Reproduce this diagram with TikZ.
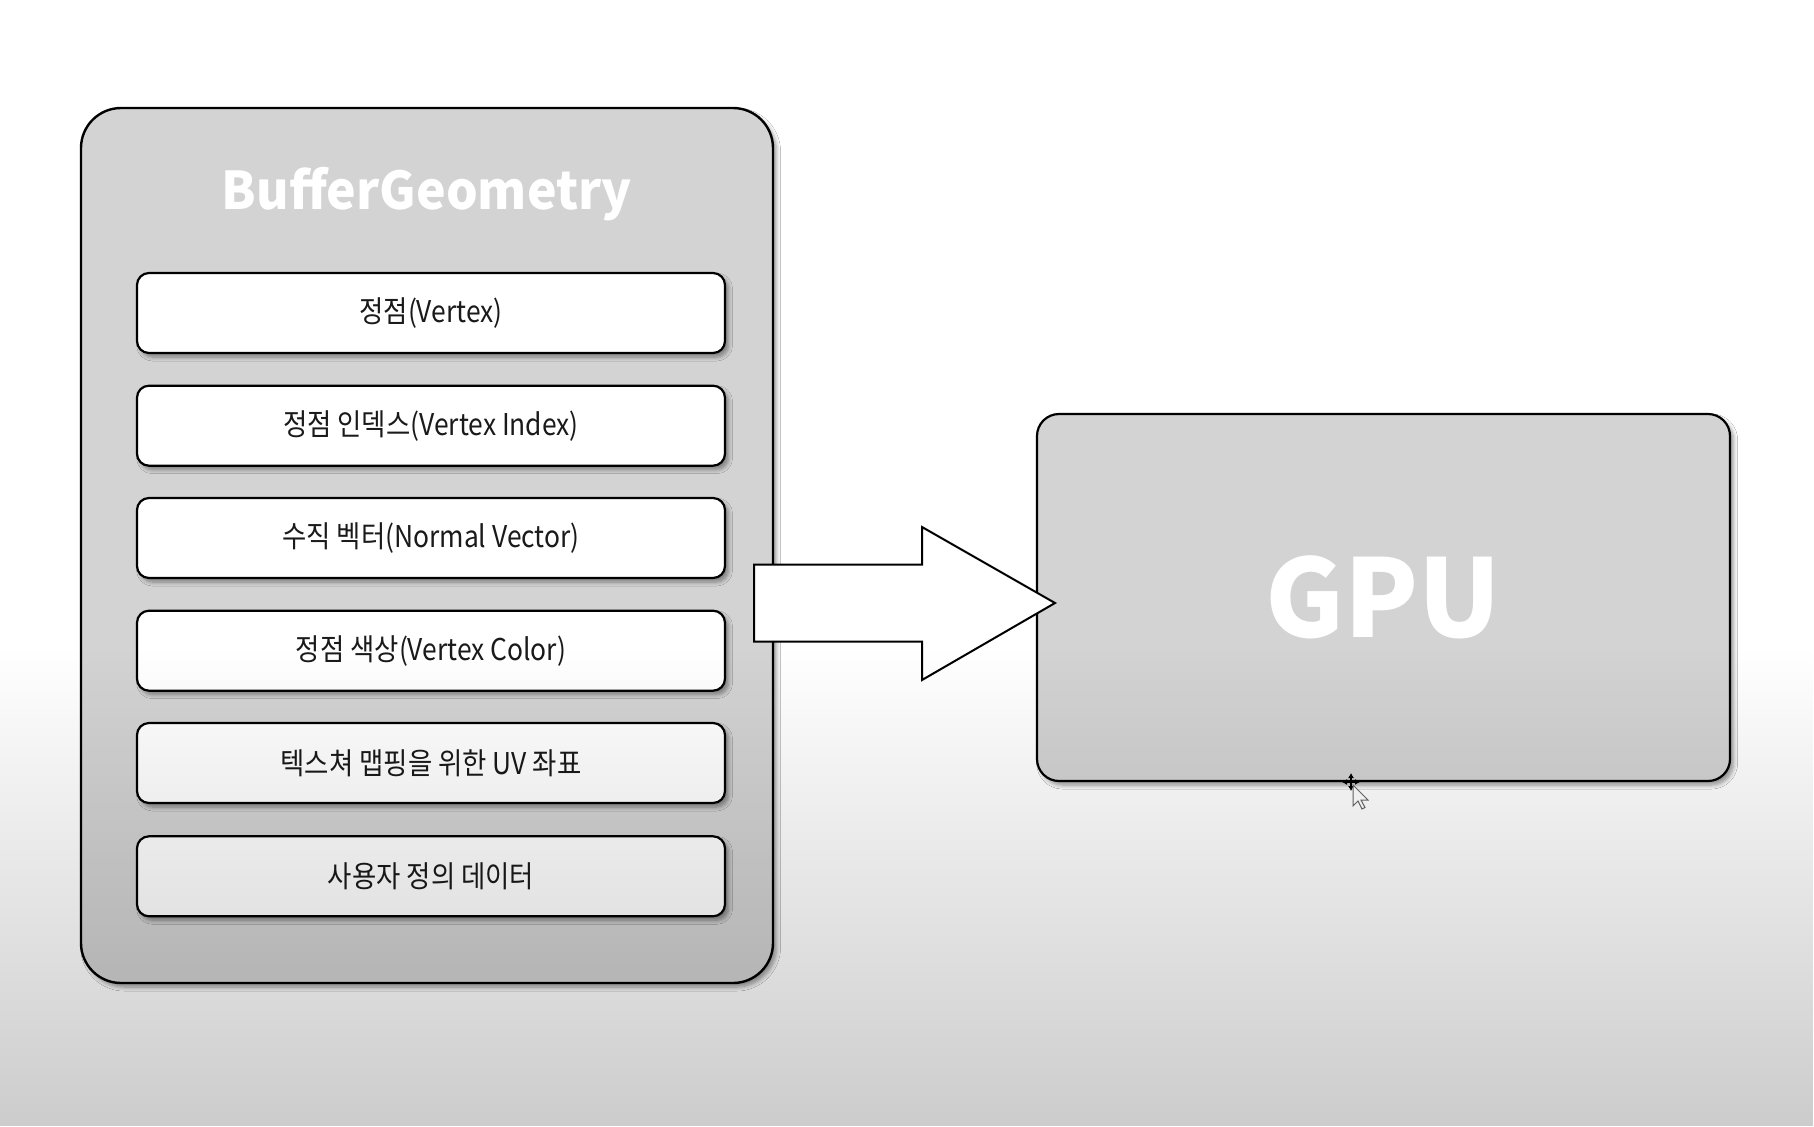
\documentclass[tikz,border=0pt]{standalone}
\usepackage{fontspec}
\setmainfont{Noto Sans CJK KR}
\usetikzlibrary{shadows.blur,fadings,calc,arrows.meta}
\tikzfading[name=fadedown, top color=transparent!100, bottom color=transparent!0]
\definecolor{boxgray}{HTML}{D3D3D3}
\definecolor{inktext}{HTML}{1A1A1A}
\newcommand\mylbl[1]{\raisebox{-1.3pt}{\scalebox{0.88}[1]{#1}}}
\tikzset{
  softshadow/.style={blur shadow={shadow xshift=1.8pt, shadow yshift=-2pt, shadow blur radius=2pt, shadow opacity=40, shadow blur steps=6}},
  outerbox/.style={draw=black, line width=1.2pt, fill=boxgray, rounded corners=20pt, softshadow, inner sep=0pt},
  itembox/.style={draw=black, line width=1.1pt, fill=white, rounded corners=6pt, softshadow,
     minimum width=294pt, minimum height=40pt, inner sep=0pt, text=inktext, font=\fontsize{15}{18}\selectfont},
  gpubox/.style={draw=black, line width=1.1pt, fill=boxgray, rounded corners=11pt, softshadow,
     minimum width=346.5pt, minimum height=183.5pt, inner sep=0pt},
  bigarrow/.style={draw=black, line width=1pt, fill=white, line join=miter},
  titletext/.style={text=white, font=\bfseries\fontsize{26}{30}\selectfont, inner sep=0pt},
  gputext/.style={text=white, font=\bfseries\fontsize{54}{60}\selectfont, inner sep=0pt},
}
\begin{document}
\begin{tikzpicture}[x=0.5pt, y=-0.5pt]
\fill[white] (0,0) rectangle (1814,1126);
\useasboundingbox (0,0) rectangle (1814,1126);

% outer BufferGeometry box
\node[outerbox, minimum width=346pt, minimum height=437.5pt] (geo) at (427,545.5) {};
\node[titletext] (title) at (427,194) {\scalebox{0.96}[1]{BufferGeometry}};

% items
\node[itembox] (i1) at (431,313.0) {\mylbl{정점(Vertex)}};
\node[itembox] (i2) at (431,425.7) {\mylbl{정점 인덱스(Vertex Index)}};
\node[itembox] (i3) at (431,538.0) {\mylbl{수직 벡터(Normal Vector)}};
\node[itembox] (i4) at (431,650.7) {\mylbl{정점 색상(Vertex Color)}};
\node[itembox] (i5) at (431,763.0) {\mylbl{텍스쳐 맵핑을 위한 UV 좌표}};
\node[itembox] (i6) at (431,876.3) {\mylbl{사용자 정의 데이터}};

% GPU box
\node[gpubox] (gpu) at (1383.5,597.5) {};
\node[gputext] (gputitle) at (1383,597) {GPU};

% block arrow from geo to gpu
\coordinate (tail) at (754,603);
\coordinate (tip) at (1055,603);
\draw[bigarrow] ($(tail)+(0,-38.5)$) -- ($(tail)+(168,-38.5)$) -- ($(tail)+(168,-76)$)
  -- (tip) -- ($(tail)+(168,77)$) -- ($(tail)+(168,38.5)$) -- ($(tail)+(0,38.5)$) -- cycle;

% mouse cursor (move icon + pointer)
\coordinate (cur) at (1351,782);
\begin{scope}[shift={(cur)}, line width=0.8pt, black]
  \draw[-{Latex[length=2.5pt,width=3pt]}] (0,0) -- (0,-9);
  \draw[-{Latex[length=2.5pt,width=3pt]}] (0,0) -- (-9,0);
  \draw[-{Latex[length=2.5pt,width=3pt]}] (0,0) -- (9,0);
  \draw[-{Latex[length=2.5pt,width=3pt]}] (0,0) -- (0,9);
  \draw[fill=white, draw=black!60, line width=0.5pt, line join=miter]
    (2,3) -- (2,24) -- (7,19) -- (11,27) -- (14,25.5) -- (10,18) -- (17,18) -- cycle;
\end{scope}

% bottom darkening
\fill[black, opacity=0.2, path fading=fadedown] (0,648) rectangle (1814,1126);
\end{tikzpicture}
\end{document}
